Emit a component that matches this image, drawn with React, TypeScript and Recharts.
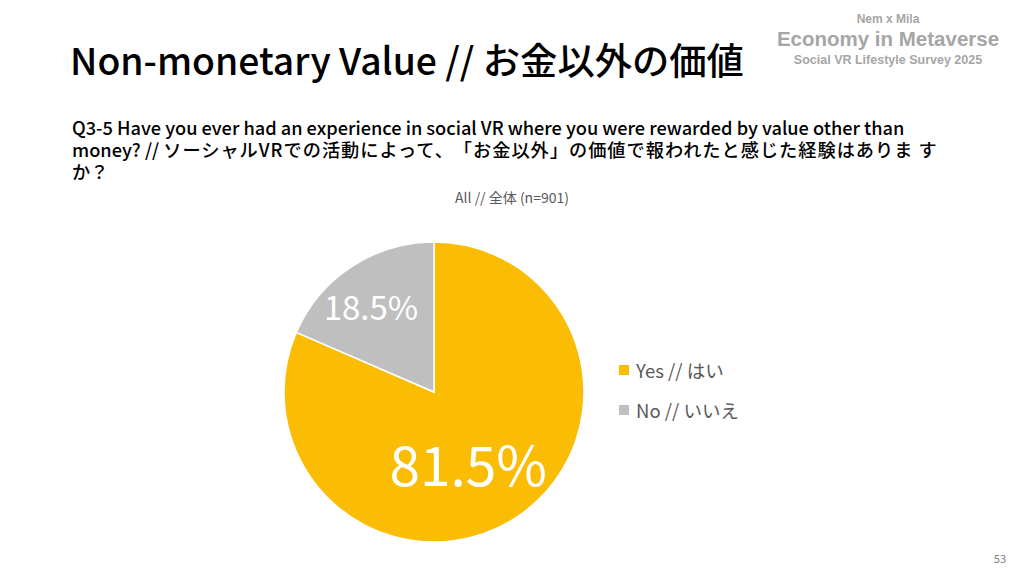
import React from "react";
import { PieChart, Pie, Cell } from "recharts";

const categories = ["Yes // はい", "No // いいえ"];
const values = [81.5, 18.5];
const colors = ["#FBBC04", "#BFBFBF"];
const labelFactor = [0.52, 0.71];
const labelAngleShift = [-7.3, 3];
const labelSize = [55, 33];

const data = categories.map((name, i) => ({ name, value: values[i] }));

const RAD = Math.PI / 180;
const font = "'Noto Sans CJK JP', 'Noto Sans', sans-serif";

const renderLabel = (props: any) => {
  const { cx, cy, midAngle, outerRadius, index, value } = props;
  const r = outerRadius * labelFactor[index];
  const a = midAngle + labelAngleShift[index];
  const x = cx + r * Math.cos(-a * RAD);
  const y = cy + r * Math.sin(-a * RAD);
  return (
    <text
      x={x}
      y={y}
      fill="#FFFFFF"
      textAnchor="middle"
      dominantBaseline="central"
      fontSize={labelSize[index]}
      fontFamily={font}
      fontWeight={400}
    >
      {`${value.toFixed(1)}%`}
    </text>
  );
};

export default function App() {
  return (
    <div style={{ position: "absolute", left: 0, top: 0, width: 1024, height: 576, background: "#fff", overflow: "hidden" }}>
      <div style={{ position: "absolute", left: 70, top: 35, fontFamily: font, fontSize: 37.3, fontWeight: 500, color: "#000", whiteSpace: "nowrap", lineHeight: "48px" }}>
        Non-monetary Value // お金以外の価値
      </div>
      <div style={{ position: "absolute", left: 766, top: 11, width: 244, textAlign: "center", fontFamily: "'Liberation Sans', Arial, sans-serif", fontWeight: 700, color: "#A6A6A6", whiteSpace: "nowrap" }}>
        <div style={{ fontSize: 12, lineHeight: "16px" }}>Nem x Mila</div>
        <div style={{ fontSize: 20.5, lineHeight: "24px" }}>Economy in Metaverse</div>
        <div style={{ fontSize: 12.5, lineHeight: "18px" }}>Social VR Lifestyle Survey 2025</div>
      </div>
      <div style={{ position: "absolute", left: 72, top: 116, width: 900, fontFamily: font, fontSize: 18.2, fontWeight: 500, color: "#000", lineHeight: "22px", textSpacingTrim: "space-all" } as any}>
        Q3-5 Have you ever had an experience in social VR where you were rewarded by value other than
        <br />
        money? // <span style={{ letterSpacing: 1 }}>ソーシャルVRでの活動によって、「お金以外」の価値で報われたと感じた経験はありま す</span>
        <br />
        か？
      </div>
      <div style={{ position: "absolute", left: 0, top: 187, width: 1024, textAlign: "center", fontFamily: font, fontSize: 14, color: "#595959" }}>
        All // 全体 (n=901)
      </div>
      <div style={{ position: "absolute", right: 18, top: 550, fontFamily: font, fontSize: 11, color: "#808080" }}>53</div>
      <div style={{ position: "absolute", left: 0, top: 0 }}>
        <PieChart width={1024} height={576} margin={{ top: 0, right: 0, bottom: 0, left: 0 }}>
          <Pie
            data={data}
            dataKey="value"
            nameKey="name"
            cx={434}
            cy={392}
            outerRadius={150}
            startAngle={90}
            endAngle={-270}
            stroke="#FFFFFF"
            strokeWidth={1.5}
            label={renderLabel}
            labelLine={false}
            isAnimationActive={false}
          >
            {data.map((d, i) => (
              <Cell key={d.name} fill={colors[i]} />
            ))}
          </Pie>
        </PieChart>
      </div>
      <div style={{ position: "absolute", left: 619, top: 350, fontFamily: font }}>
        {data.map((d, i) => (
          <div key={d.name} style={{ display: "flex", alignItems: "center", height: 40, color: "#595959", fontSize: 18.5 }}>
            <span style={{ width: 10, height: 10, background: colors[i], display: "inline-block", marginRight: 7 }} />
            {d.name}
          </div>
        ))}
      </div>
    </div>
  );
}
